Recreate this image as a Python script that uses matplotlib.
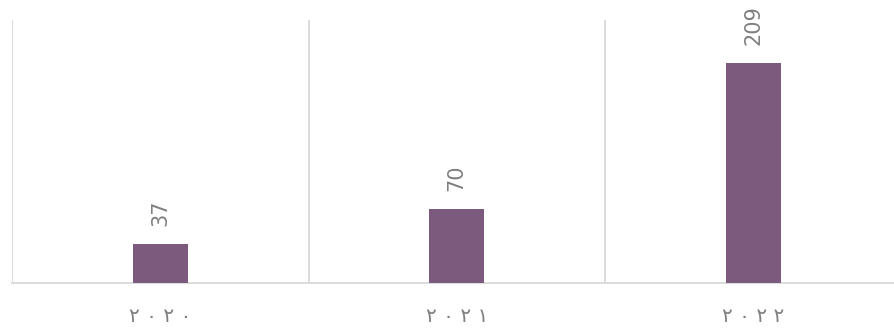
import matplotlib
matplotlib.use("Agg")
import matplotlib.pyplot as plt
from matplotlib.ticker import FixedLocator

years = ["٢ ٠ ٢ ٠", "٢ ٠ ٢ ١", "٢ ٠ ٢ ٢"]
counts = [37, 70, 209]

bar_color = "#7b5a7d"
grid_color = "#d9d9d9"
text_color = "#808080"

fig = plt.figure(figsize=(8.94, 3.31), dpi=100)
ax = fig.add_axes([12 / 894, 48 / 331, 889.5 / 894, 263 / 331])

x = range(len(years))
bars = ax.bar(x, counts, width=0.185, color=bar_color, zorder=3)

for rect, val in zip(bars, counts):
    ax.annotate(str(val), (rect.get_x() + rect.get_width() / 2, rect.get_height()),
                xytext=(0, 13), textcoords="offset points", rotation=90,
                ha="center", va="bottom", fontsize=15, color=text_color)

ax.set_xlim(-0.5, len(years) - 0.5)
ax.set_ylim(0, 250)
ax.set_xticks(list(x))
ax.set_xticklabels(years, fontsize=14.5, color=text_color, family=["DejaVu Sans"])
ax.tick_params(axis="x", length=0, pad=17)
ax.set_yticks([])

ax.xaxis.set_minor_locator(FixedLocator([i - 0.5 for i in range(len(years) + 1)]))
ax.grid(which="minor", axis="x", color=grid_color, linewidth=1.3, zorder=0)
ax.tick_params(axis="x", which="minor", length=0)

for side in ["top", "right", "left"]:
    ax.spines[side].set_visible(False)
ax.spines["bottom"].set_color(grid_color)
ax.spines["bottom"].set_linewidth(1.3)

fig.savefig("out.png", dpi=100)
